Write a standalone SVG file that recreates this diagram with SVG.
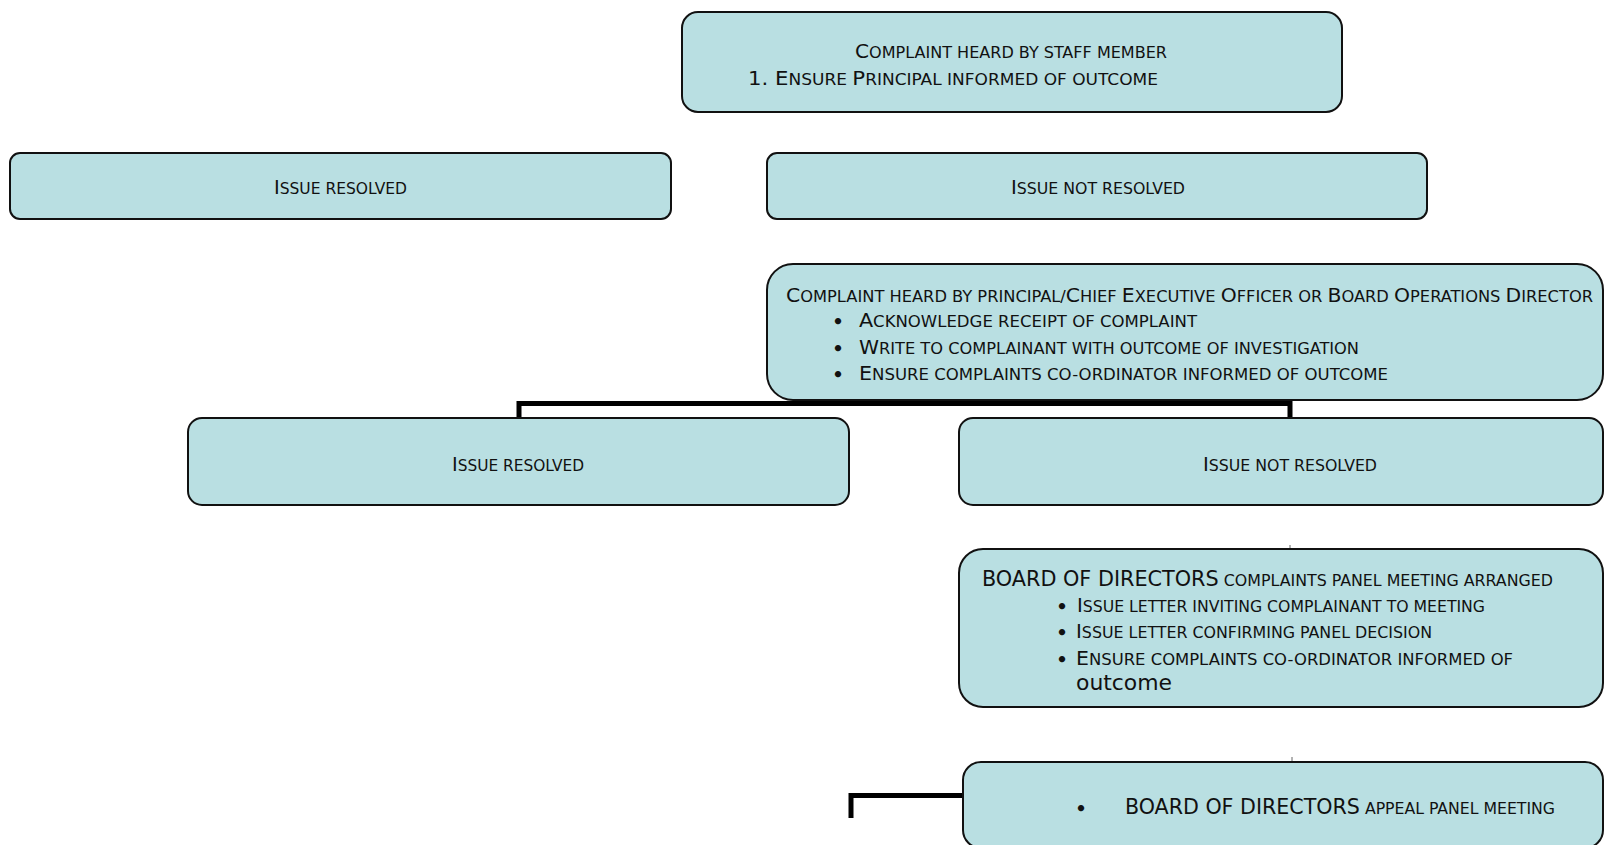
<svg xmlns="http://www.w3.org/2000/svg" width="1604" height="845" viewBox="0 0 1604 845">
<style>
.box{fill:#b9dfe2;stroke:#111;stroke-width:2}
.t{font-family:"DejaVu Sans Condensed","DejaVu Sans",sans-serif;fill:#111;font-size:16px}
.b{font-size:20px}
.bb{font-size:21px}
.bul{font-family:"DejaVu Sans",sans-serif;fill:#111;font-size:18px;font-weight:bold;text-anchor:middle}
.conn{fill:none;stroke:#000;stroke-width:5}
.tick{stroke:#666;stroke-width:1}
</style>
<rect width="1604" height="845" fill="#fff"/>
<g id="connectors">
<path class="conn" d="M519,418 V403.5 H1290 V418"/>
<path class="conn" d="M851,818 V795.5 H963"/>
<line class="tick" x1="1290" y1="545" x2="1290" y2="551"/>
<line class="tick" x1="1292" y1="757" x2="1292" y2="763"/>
</g>
<g id="n1">
<rect class="box" x="682" y="12" width="660" height="100" rx="16"/>
<text class="t" x="855" y="58" textLength="312" lengthAdjust="spacingAndGlyphs"><tspan class="b">C</tspan>OMPLAINT HEARD BY STAFF MEMBER</text>
<text class="t" x="748" y="85" textLength="410" lengthAdjust="spacingAndGlyphs"><tspan class="b">1. E</tspan>NSURE <tspan class="b">P</tspan>RINCIPAL INFORMED OF OUTCOME</text>
</g>
<g id="n2">
<rect class="box" x="10" y="153" width="661" height="66" rx="10"/>
<text class="t" x="274" y="194" textLength="133" lengthAdjust="spacingAndGlyphs"><tspan class="b">I</tspan>SSUE RESOLVED</text>
</g>
<g id="n3">
<rect class="box" x="767" y="153" width="660" height="66" rx="10"/>
<text class="t" x="1011" y="194" textLength="174" lengthAdjust="spacingAndGlyphs"><tspan class="b">I</tspan>SSUE NOT RESOLVED</text>
</g>
<g id="n4">
<rect class="box" x="767" y="264" width="836" height="136" rx="26"/>
<text class="t" x="786" y="302" textLength="807" lengthAdjust="spacingAndGlyphs"><tspan class="b">C</tspan>OMPLAINT HEARD BY PRINCIPAL/<tspan class="b">C</tspan>HIEF <tspan class="b">E</tspan>XECUTIVE <tspan class="b">O</tspan>FFICER OR <tspan class="b">B</tspan>OARD <tspan class="b">O</tspan>PERATIONS <tspan class="b">D</tspan>IRECTOR</text>
<text class="bul" x="838" y="328">•</text>
<text class="t" x="859" y="327" textLength="338" lengthAdjust="spacingAndGlyphs"><tspan class="b">A</tspan>CKNOWLEDGE RECEIPT OF COMPLAINT</text>
<text class="bul" x="838" y="355">•</text>
<text class="t" x="859" y="354" textLength="500" lengthAdjust="spacingAndGlyphs"><tspan class="b">W</tspan>RITE TO COMPLAINANT WITH OUTCOME OF INVESTIGATION</text>
<text class="bul" x="838" y="381">•</text>
<text class="t" x="859" y="380" textLength="529" lengthAdjust="spacingAndGlyphs"><tspan class="b">E</tspan>NSURE COMPLAINTS CO-ORDINATOR INFORMED OF OUTCOME</text>
</g>
<g id="n5">
<rect class="box" x="188" y="418" width="661" height="87" rx="14"/>
<text class="t" x="452" y="471" textLength="132" lengthAdjust="spacingAndGlyphs"><tspan class="b">I</tspan>SSUE RESOLVED</text>
</g>
<g id="n6">
<rect class="box" x="959" y="418" width="644" height="87" rx="14"/>
<text class="t" x="1203" y="471" textLength="174" lengthAdjust="spacingAndGlyphs"><tspan class="b">I</tspan>SSUE NOT RESOLVED</text>
</g>
<g id="n7">
<rect class="box" x="959" y="549" width="644" height="158" rx="24"/>
<text class="t" x="982" y="586" textLength="571" lengthAdjust="spacingAndGlyphs"><tspan class="bb">BOARD OF DIRECTORS</tspan> COMPLAINTS PANEL MEETING ARRANGED</text>
<text class="bul" x="1062" y="613">•</text>
<text class="t" x="1077" y="612" textLength="408" lengthAdjust="spacingAndGlyphs"><tspan class="b">I</tspan>SSUE LETTER INVITING COMPLAINANT TO MEETING</text>
<text class="bul" x="1062" y="639">•</text>
<text class="t" x="1076" y="638" textLength="356" lengthAdjust="spacingAndGlyphs"><tspan class="b">I</tspan>SSUE LETTER CONFIRMING PANEL DECISION</text>
<text class="bul" x="1062" y="666">•</text>
<text class="t" x="1076" y="665" textLength="437" lengthAdjust="spacingAndGlyphs"><tspan class="b">E</tspan>NSURE COMPLAINTS CO-ORDINATOR INFORMED OF</text>
<text class="t bb" x="1076" y="690" textLength="96" lengthAdjust="spacingAndGlyphs">outcome</text>
</g>
<g id="n8">
<rect class="box" x="963" y="762" width="640" height="86" rx="18"/>
<text class="bul" x="1081" y="815">•</text>
<text class="t" x="1125" y="814" textLength="430" lengthAdjust="spacingAndGlyphs"><tspan class="bb">BOARD OF DIRECTORS</tspan> APPEAL PANEL MEETING</text>
</g>
</svg>
